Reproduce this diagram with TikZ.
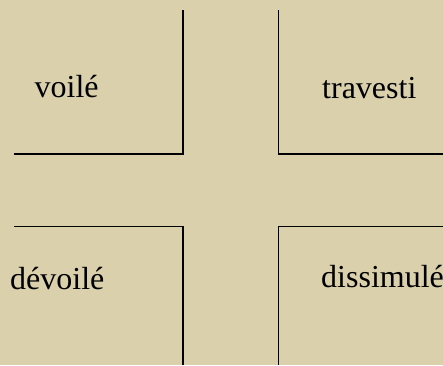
\documentclass[tikz,border=0pt]{standalone}
\usepackage{fontspec}
\setmainfont{Liberation Serif}
\definecolor{bg}{RGB}{218,208,172}
\begin{document}
\begin{tikzpicture}[x=1pt,y=-1pt,
  edge/.style={line width=1.6pt,black},
  word/.style={anchor=base west,inner sep=0pt,font=\fontsize{32}{38}\selectfont}]
\fill[bg] (0,0) rectangle (443,365);
\useasboundingbox (0,0) rectangle (443,365);
\coordinate (a1) at (183,10);
\coordinate (a2) at (183,154);
\coordinate (a3) at (14,154);
\coordinate (b1) at (278.5,10);
\coordinate (b2) at (278.5,154);
\coordinate (b3) at (443,154);
\coordinate (c1) at (14,226.5);
\coordinate (c2) at (183,226.5);
\coordinate (c3) at (183,365);
\coordinate (d1) at (443,226.5);
\coordinate (d2) at (278.5,226.5);
\coordinate (d3) at (278.5,365);
\draw[edge] (a1) -- (a2) -- (a3);
\draw[edge] (b1) -- (b2) -- (b3);
\draw[edge] (c1) -- (c2) -- (c3);
\draw[edge] (d1) -- (d2) -- (d3);
\node[word] (v) at (34.5,97.5) {voilé};
\node[word] (t) at (322,98) {travesti};
\node[word] (dv) at (10,289.5) {dévoilé};
\node[word] (ds) at (321,287.5) {dissimulé};
\end{tikzpicture}
\end{document}
